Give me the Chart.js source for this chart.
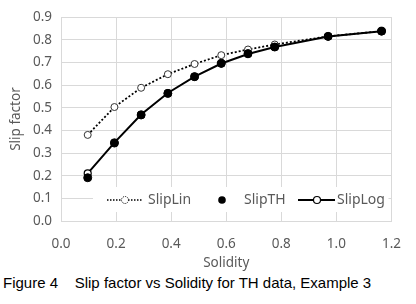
<!DOCTYPE html>
<html>
<head>
<meta charset="utf-8">
<script src="https://cdn.jsdelivr.net/npm/chart.js@4/dist/chart.umd.min.js"></script>
<style>
  body { margin: 0; background: #fff; width: 416px; height: 304px; overflow: hidden; }
  #wrap { position: relative; width: 416px; height: 271px; }
  #cap { font-family: "Liberation Sans", Arial, sans-serif; font-size: 15px; color: #000;
         position: absolute; left: 3px; top: 274px; white-space: pre; }
</style>
</head>
<body>
<div id="wrap"><canvas id="mycanvas" width="416" height="271"></canvas></div>
<div id="cap">Figure 4    Slip factor vs Solidity for TH data, Example 3</div>
<script>
var solidity = [0.097, 0.194, 0.291, 0.388, 0.485, 0.582, 0.679, 0.776, 0.970, 1.164];
var slipLin  = [0.380, 0.503, 0.588, 0.648, 0.693, 0.732, 0.757, 0.779, 0.815, 0.838];
var slipTH   = [0.191, 0.344, 0.468, 0.563, 0.637, 0.696, 0.739, 0.768, 0.815, 0.838];
var slipLog  = [0.210, 0.346, 0.470, 0.565, 0.637, 0.695, 0.737, 0.768, 0.814, 0.838];
var xTicks = [0, 0.2, 0.4, 0.6, 0.8, 1.0, 1.2];
var yTicks = [0, 0.1, 0.2, 0.3, 0.4, 0.5, 0.6, 0.7, 0.8, 0.9];
var seriesNames = ['SlipLin', 'SlipTH', 'SlipLog'];

function pts(ys) {
    var out = [];
    for (var i in solidity) out.push({x: solidity[i], y: ys[i]});
    return out;
}

var tickFont = {family: 'Noto Sans', size: 13.5};
var grey = '#595959';

// legend drawn inside the plot, like the Excel one
var boxLegend = {
    id: 'boxLegend',
    afterDatasetsDraw: function(chart) {
        var ctx = chart.ctx, a = chart.chartArea;
        var cy = a.bottom - 21;
        ctx.save();
        ctx.fillStyle = '#fff';
        ctx.fillRect(a.left + 32, cy - 13, a.right - a.left - 35, 25);
        ctx.font = '14px "Noto Sans"';
        ctx.fillStyle = grey;
        ctx.textBaseline = 'middle';
        var x0 = a.left + 46;
        // SlipLin
        ctx.strokeStyle = '#000'; ctx.lineWidth = 1.5; ctx.setLineDash([1.5, 1.5]);
        ctx.beginPath(); ctx.moveTo(x0, cy); ctx.lineTo(x0 + 36, cy); ctx.stroke();
        ctx.setLineDash([1, 1]); ctx.lineWidth = 1;
        ctx.beginPath(); ctx.arc(x0 + 18, cy, 3.5, 0, Math.PI * 2);
        ctx.fillStyle = '#fff'; ctx.fill(); ctx.stroke();
        ctx.setLineDash([]);
        ctx.fillStyle = grey; ctx.fillText(seriesNames[0], x0 + 41, cy);
        // SlipTH
        ctx.fillStyle = '#000';
        ctx.beginPath(); ctx.arc(x0 + 115, cy, 3.8, 0, Math.PI * 2); ctx.fill();
        ctx.fillStyle = grey; ctx.fillText(seriesNames[1], x0 + 137, cy);
        // SlipLog
        ctx.strokeStyle = '#000'; ctx.lineWidth = 2;
        ctx.beginPath(); ctx.moveTo(x0 + 191, cy); ctx.lineTo(x0 + 228, cy); ctx.stroke();
        ctx.lineWidth = 1.2;
        ctx.beginPath(); ctx.arc(x0 + 210, cy, 3.5, 0, Math.PI * 2);
        ctx.fillStyle = '#fff'; ctx.fill(); ctx.stroke();
        ctx.fillStyle = grey; ctx.fillText(seriesNames[2], x0 + 230, cy);
        ctx.restore();
    }
};

var ctx = document.getElementById('mycanvas');
var myChart = new Chart(ctx, {
    type: 'scatter',
    data: {
        datasets: [{
            label: seriesNames[0],
            data: pts(slipLin),
            showLine: true,
            borderColor: '#000',
            borderWidth: 1.8,
            borderDash: [2, 2],
            pointRadius: 3.5,
            pointBorderWidth: 1,
            pointBackgroundColor: '#fff',
            pointBorderColor: '#333',
            order: 3
        }, {
            label: seriesNames[1],
            data: pts(slipTH),
            showLine: false,
            pointRadius: 4,
            pointBackgroundColor: '#000',
            pointBorderColor: '#000',
            order: 1
        }, {
            label: seriesNames[2],
            data: pts(slipLog),
            showLine: true,
            borderColor: '#000',
            borderWidth: 2,
            pointRadius: 3.5,
            pointBorderWidth: 1.2,
            pointBackgroundColor: '#fff',
            pointBorderColor: '#000',
            order: 2
        }]
    },
    options: {
        responsive: false,
        animation: false,
        layout: {padding: {top: 8, right: 21, left: 0, bottom: 0}},
        plugins: {legend: {display: false}, tooltip: {enabled: false}},
        scales: {
            x: {
                type: 'linear', min: 0, max: 1.2,
                afterBuildTicks: function(s) { s.ticks = xTicks.map(function(v) { return {value: v}; }); },
                afterFit: function(s) { s.height = 50; },
                grid: {color: '#d9d9d9', drawTicks: false},
                border: {color: '#d9d9d9'},
                ticks: {color: grey, font: tickFont, padding: 15,
                        callback: function(v) { return v.toFixed(1); }},
                title: {display: true, text: 'Solidity', color: grey, font: tickFont, padding: 0}
            },
            y: {
                type: 'linear', min: 0, max: 0.9,
                afterBuildTicks: function(s) { s.ticks = yTicks.map(function(v) { return {value: v}; }); },
                afterFit: function(s) { s.width = 61; },
                grid: {color: '#d9d9d9', drawTicks: false},
                border: {color: '#d9d9d9'},
                ticks: {color: grey, font: tickFont, padding: 9,
                        callback: function(v) { return v.toFixed(1); }},
                title: {display: true, text: 'Slip factor', color: grey, font: tickFont, padding: {top: 8, bottom: 0}}
            }
        }
    },
    plugins: [boxLegend]
});
</script>
</body>
</html>
